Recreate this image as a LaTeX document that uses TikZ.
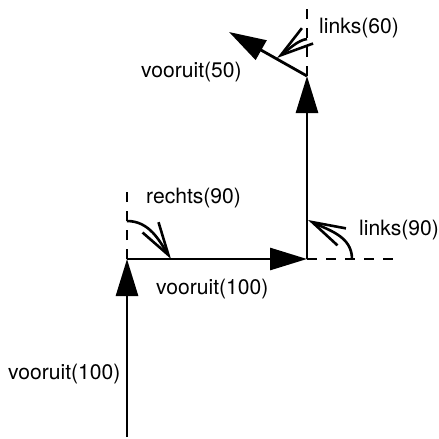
\documentclass[tikz,border=0pt]{standalone}
\usepackage{fontspec}
\setmainfont{TeX Gyre Heros}
\usetikzlibrary{arrows.meta}
\begin{document}
\begin{tikzpicture}[x=1pt,y=-1pt,
  move/.style={line width=2.8pt, -{Triangle[length=37pt,width=22pt]}},
  turn/.style={line width=2.6pt, -{Straight Barb[length=33pt,width=19pt]}},
  heading/.style={line width=1.5pt, dash pattern=on 10pt off 9pt},
  lbl/.style={font=\fontsize{21.1}{24}\selectfont, inner sep=0pt, anchor=base west}]
\useasboundingbox (0,0) rectangle (439,439);

% turtle positions
\coordinate (A) at (127,437);
\coordinate (B) at (127,259);
\coordinate (C) at (307,259);
\coordinate (D) at (307,76);
\coordinate (E) at (229,32);

% previous headings (dashed)
\coordinate (hB) at (127,187);
\coordinate (hC) at (400,259);
\coordinate (hD) at (307,8);
\draw[heading] (B) -- (hB);
\draw[heading] (C) -- (hC);
\draw[heading] (D) -- (hD);

% moves
\draw[move] (A) -- (B);
\draw[move] (B) -- (C);
\draw[move] (C) -- (D);
\draw[move] (D) -- (E);

% turns
\coordinate (r0) at (127,221);
\coordinate (r1) at (171,259);
\draw[turn] (r0) .. controls (150,221) and (160,242) .. (r1);
\coordinate (l0) at (352,259);
\coordinate (l1) at (308,220);
\draw[turn] (l0) .. controls (352,236) and (328,230) .. (l1);
\coordinate (m0) at (307,39);
\coordinate (m1) at (277,58);
\draw[turn] (m0) .. controls (298,40) and (288,50) .. (m1);

% labels
\node[lbl] (t1) at (8,379) {vooruit(100)};
\node[lbl] (t2) at (156,294) {vooruit(100)};
\node[lbl] (t3) at (146,203) {rechts(90)};
\node[lbl] (t4) at (359,235) {links(90)};
\node[lbl] (t5) at (319,33.5) {links(60)};
\node[lbl] (t6) at (141,77.5) {vooruit(50)};
\end{tikzpicture}
\end{document}
